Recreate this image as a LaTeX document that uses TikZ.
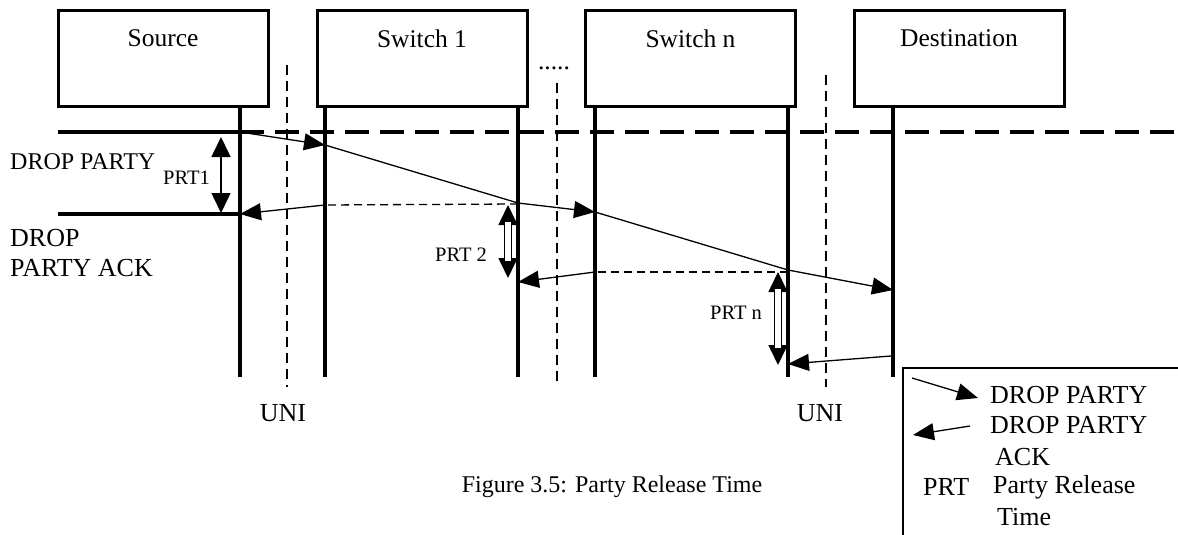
\documentclass[tikz,border=0pt]{standalone}
\usepackage{fontspec}
\setmainfont{Liberation Serif}
\usetikzlibrary{arrows.meta}
\begin{document}
\begin{tikzpicture}[x=1pt,y=-1pt,
  box/.style={draw, line width=3pt, minimum width=210pt, minimum height=95pt, inner sep=0pt},
  life/.style={line width=4pt},
  uni/.style={line width=2pt, dash pattern=on 10pt off 6pt},
  msg/.style={line width=1.3pt},
  msgtip/.style={line width=1.3pt, -{Triangle[length=21pt,width=17pt]}},
  ackdash/.style={line width=1.3pt, dash pattern=on 8pt off 5pt},
  thickline/.style={line width=4pt},
  thickdash/.style={line width=3.5pt, dash pattern=on 24pt off 11pt},
  prt/.style={line width=1.6pt, {Triangle[length=20pt,width=19pt]}-{Triangle[length=20pt,width=19pt]}},
  prthollow/.style={line width=1.2pt, double=white, double distance=6pt, shorten <=17pt, shorten >=17pt},
  lbl/.style={inner sep=0pt, font=\fontsize{25.5}{30}\selectfont},
  lblbig/.style={inner sep=0pt, font=\fontsize{26}{30}\selectfont},
  lblsmall/.style={inner sep=0pt, font=\fontsize{20.5}{24}\selectfont},
  lblmid/.style={inner sep=0pt, font=\fontsize{24}{28}\selectfont},
  legendline/.style={line width=1.5pt}
]
\useasboundingbox (0,0) rectangle (1178,535);

% boxes
\node[box] (src) at (163,58.5) {};
\node[box] (sw1) at (422,58.5) {};
\node[box] (swn) at (690.5,58.5) {};
\node[box] (dst) at (959,58.5) {};
\node[lbl] at ([yshift=-29pt]src.north) {Source};
\node[lbl] at ([yshift=-29pt]sw1.north) {Switch 1};
\node[lbl] at ([yshift=-29pt]swn.north) {Switch n};
\node[lbl] at ([yshift=-29pt]dst.north) {Destination};
\node[lbl, anchor=base] (dots) at (554,70) {.....};

% lifelines
\coordinate (lsT) at (240,107);  \coordinate (lsB) at (240,377);
\coordinate (l1aT) at (325,107); \coordinate (l1aB) at (325,377);
\coordinate (l1bT) at (518,107); \coordinate (l1bB) at (518,377);
\coordinate (lnaT) at (595,107); \coordinate (lnaB) at (595,377);
\coordinate (lnbT) at (788,107); \coordinate (lnbB) at (788,377);
\coordinate (ldT) at (893,107);  \coordinate (ldB) at (893,377);
\draw[life] (lsT) -- (lsB);
\draw[life] (l1aT) -- (l1aB);
\draw[life] (l1bT) -- (l1bB);
\draw[life] (lnaT) -- (lnaB);
\draw[life] (lnbT) -- (lnbB);
\draw[life] (ldT) -- (ldB);

% UNI dashed lines
\coordinate (u1T) at (287,65);  \coordinate (u1B) at (287,387);
\coordinate (u2T) at (557,83);  \coordinate (u2B) at (557,387);
\coordinate (u3T) at (826,75);  \coordinate (u3B) at (826,387);
\draw[uni] (u1T) -- (u1B);
\draw[uni] (u2T) -- (u2B);
\draw[uni] (u3T) -- (u3B);
\node[lblbig] (uni1) at (283,413) {UNI};
\node[lblbig] (uni2) at (820,413) {UNI};

% time lines at source
\coordinate (t1L) at (58,132); \coordinate (t1S) at (240,132); \coordinate (t1R) at (1180,132);
\coordinate (t2L) at (58,214); \coordinate (t2S) at (240,214);
\draw[thickline] (t1L) -- (t1S);
\draw[thickdash] (t1S) -- (t1R);
\draw[thickline] (t2L) -- (t2S);

% DROP PARTY messages
\coordinate (a1) at (240,132);
\coordinate (a2) at (325,145);
\coordinate (a3) at (518,203);
\coordinate (a4) at (595,212);
\coordinate (a5) at (788,270);
\coordinate (a6) at (893,290);
\draw[msgtip] (a1) -- (a2);
\draw[msg] (a2) -- (a3);
\draw[msgtip] (a3) -- (a4);
\draw[msg] (a4) -- (a5);
\draw[msgtip] (a5) -- (a6);

% DROP PARTY ACK messages
\coordinate (b1) at (891,356);
\coordinate (b2) at (788,364);
\coordinate (b3) at (788,272);
\coordinate (b4) at (595,272);
\coordinate (b5) at (518,282);
\coordinate (b6) at (518,204);
\coordinate (b7) at (325,205);
\coordinate (b8) at (240,214);
\draw[msgtip] (b1) -- (b2);
\draw[ackdash] (b3) -- (b4);
\draw[msgtip] (b4) -- (b5);
\draw[ackdash] (b6) -- (b7);
\draw[msgtip] (b7) -- (b8);

% PRT arrows
\coordinate (p1T) at (221,137); \coordinate (p1B) at (221,213);
\draw[prt] (p1T) -- (p1B);
\coordinate (p2T) at (508,205); \coordinate (p2B) at (508,278);
\draw[prt] (p2T) -- (p2B);
\draw[prthollow] (p2T) -- (p2B);
\coordinate (pnT) at (778,272); \coordinate (pnB) at (778,365);
\draw[prt] (pnT) -- (pnB);
\draw[prthollow] (pnT) -- (pnB);

\node[lblsmall, anchor=west] (prt1) at (163,178) {PRT1};
\node[lblsmall, anchor=west] (prt2) at (435,255) {PRT 2};
\node[lblsmall, anchor=west] (prtn) at (710,313) {PRT n};

% left labels
\node[lblmid, anchor=west] (dp) at (10,162) {DROP PARTY};
\node[lblbig, anchor=west] (dpa1) at (10,238) {DROP};
\node[lblbig, anchor=west] (dpa2) at (10,268) {PARTY ACK};

% caption
\node[lblmid] (cap) at (612,487) {Figure 3.5: Party Release Time};

% legend
\coordinate (lgB) at (903,540); \coordinate (lgC) at (903,368); \coordinate (lgR) at (1182,368);
\draw[legendline] (lgB) -- (lgC) -- (lgR);
\coordinate (lg1a) at (912,378); \coordinate (lg1b) at (978,398);
\draw[msgtip] (lg1a) -- (lg1b);
\coordinate (lg2a) at (970,426); \coordinate (lg2b) at (913,435);
\draw[msgtip] (lg2a) -- (lg2b);
\node[lblbig, anchor=west] (lgt1) at (990,395) {DROP PARTY};
\node[lblbig, anchor=west] (lgt2) at (990,425) {DROP PARTY};
\node[lblbig, anchor=west] (lgt3) at (995,457) {ACK};
\node[lblbig, anchor=west] (lgt4) at (923,487) {PRT};
\node[lblbig, anchor=west] (lgt5) at (993,487) {Party Release};
\node[lblbig, anchor=west] (lgt6) at (997,517) {Time};
\end{tikzpicture}
\end{document}
